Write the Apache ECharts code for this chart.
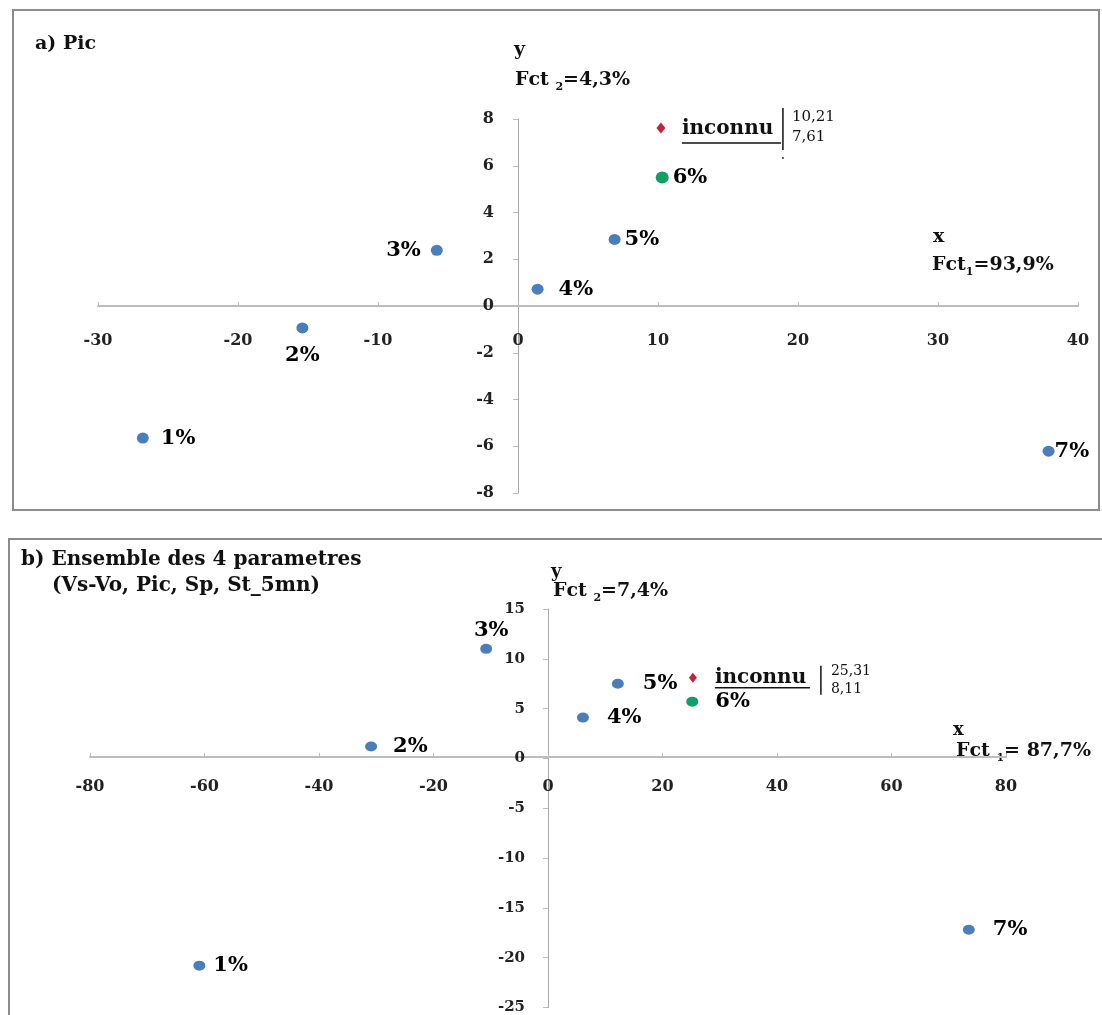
<!DOCTYPE html>
<html><head><meta charset="utf-8">
<script src="https://cdn.jsdelivr.net/npm/echarts@6/dist/echarts.min.js"></script>
<style>html,body{margin:0;padding:0;background:#fff}#c{width:1102px;height:1015px}</style>
</head><body><div id="c"></div>
<script>
// ---------- data ----------
const pointLabels = ['1%','2%','3%','4%','5%','6%','7%'];
const topX = [-26.8, -15.4, -5.8, 1.4, 6.9, 10.3, 37.9];
const topY = [-5.65, -0.94, 2.38, 0.72, 2.85, 5.5, -6.21];
const topUnknown = [10.21, 7.61];
const botX = [-60.9, -30.9, -10.8, 6.1, 12.2, 25.2, 73.5];
const botY = [-20.8, 1.2, 11.0, 4.1, 7.5, 5.7, -17.2];
const botUnknown = [25.31, 8.11];
const unknownName = 'inconnu';
const highlightIndex = 5; // 6% drawn in green
const topTitle = 'a) Pic';
const botTitle1 = 'b) Ensemble des 4 parametres';
const botTitle2 = '(Vs-Vo, Pic, Sp, St_5mn)';
const topXName = ['x', 'Fct', '1', '=93,9%'];
const topYName = ['y', 'Fct ', '2', '=4,3%'];
const botXName = ['x', 'Fct ', '1', '= 87,7%'];
const botYName = ['y', 'Fct ', '2', '=7,4%'];
const topXRange = [-30, 40, 10], topYRange = [-8, 8, 2];
const botXRange = [-80, 80, 20], botYRange = [-25, 15, 5];

// ---------- styles / layout ----------
const FONT = '"DejaVu Serif", "Liberation Serif", serif';
const BLUE = '#4a7ebb', GREEN = '#10a064', RED = '#c0243a';
const topGrid = {left:98, top:119, width:980, height:374};
const botGrid = {left:90, top:609, width:916, height:401};
const topLabelStyle = [
  {position:'right', distance:12}, {position:'bottom', distance:12}, {position:'left', distance:10},
  {position:'right', distance:15}, {position:'right', distance:4}, {position:'right', distance:4},
  {position:'right', distance:0}
];
const botLabelStyle = [
  {position:'right', distance:8}, {position:'right', distance:16}, {position:'top', distance:3, offset:[5,0]},
  {position:'right', distance:18}, {position:'right', distance:19}, {position:'right', distance:17},
  {position:'right', distance:18}
];

function items(xs, ys, styles, fontSize, pick) {
  const out = [];
  xs.forEach((x, i) => {
    if (!pick(i)) return;
    out.push({
      value: [x, ys[i]], name: pointLabels[i],
      label: Object.assign({show:true, formatter:'{b}', color:'#000', fontFamily:FONT, fontWeight:'bold', fontSize:fontSize}, styles[i])
    });
  });
  return out;
}

// axes crossing at zero: shift each axis to the other axis' zero
function zeroShift(range, size) { return size * (0 - range[0]) / (range[1] - range[0]); }

function axisX(gi, r, margin, yr, grid) {
  return {
    gridIndex: gi, type:'value', min:r[0], max:r[1], interval:r[2],
    position:'bottom', offset: -zeroShift(yr, grid.height),
    axisLine:{onZero:false, lineStyle:{color:'#bdbdbd', width:2}},
    axisTick:{show:true, inside:true, length:4, lineStyle:{color:'#bdbdbd'}},
    axisLabel:{margin, color:'#222', fontFamily:FONT, fontWeight:'bold', fontSize:16},
    splitLine:{show:false}
  };
}
function axisY(gi, r, margin, fs, xr, grid) {
  return {
    gridIndex: gi, type:'value', min:r[0], max:r[1], interval:r[2],
    position:'left', offset: -zeroShift(xr, grid.width),
    axisLine:{onZero:false, lineStyle:{color:'#a8a8a8', width:1}},
    axisTick:{show:true, length:5, lineStyle:{color:'#bdbdbd'}},
    axisLabel:{margin, color:'#222', fontFamily:FONT, fontWeight:'bold', fontSize:fs},
    splitLine:{show:false}
  };
}

const chart = echarts.init(document.getElementById('c'), null, {renderer:'canvas'});
chart.setOption({
  animation:false,
  backgroundColor:'#fff',
  grid:[ topGrid, botGrid ],
  xAxis:[ axisX(0, topXRange, 27, topYRange, topGrid), axisX(1, botXRange, 22, botYRange, botGrid) ],
  yAxis:[ axisY(0, topYRange, 24, 16, topXRange, topGrid), axisY(1, botYRange, 23, 15, botXRange, botGrid) ],
  series:[
    {type:'scatter', xAxisIndex:0, yAxisIndex:0, symbol:'circle', symbolSize:[12,11],
     itemStyle:{color:BLUE, opacity:1}, data: items(topX, topY, topLabelStyle, 21, i => i !== highlightIndex)},
    {type:'scatter', xAxisIndex:0, yAxisIndex:0, symbol:'circle', symbolSize:[13,12],
     itemStyle:{color:GREEN, opacity:1}, data: items(topX, topY, topLabelStyle, 21, i => i === highlightIndex)},
    {type:'scatter', xAxisIndex:0, yAxisIndex:0, symbol:'diamond', symbolSize:[9,11],
     itemStyle:{color:RED, opacity:1}, data:[{value:topUnknown, name:unknownName}]},
    {type:'scatter', xAxisIndex:1, yAxisIndex:1, symbol:'circle', symbolSize:[12,10],
     itemStyle:{color:BLUE, opacity:1}, data: items(botX, botY, botLabelStyle, 21, i => i !== highlightIndex)},
    {type:'scatter', xAxisIndex:1, yAxisIndex:1, symbol:'circle', symbolSize:[12,10],
     itemStyle:{color:GREEN, opacity:1}, data: items(botX, botY, botLabelStyle, 21, i => i === highlightIndex)},
    {type:'scatter', xAxisIndex:1, yAxisIndex:1, symbol:'diamond', symbolSize:[8,10],
     itemStyle:{color:RED, opacity:1}, data:[{value:botUnknown, name:unknownName}]}
  ]
});

// ---------- annotations / frames ----------
function fmt(v){ return v.toFixed(2).replace('.', ','); }
function txt(text, x, y, size, opts) {
  return {type:'text', silent:true, style:Object.assign({
    text, x, y, fill:'#111', font:'bold ' + size + 'px ' + FONT, verticalAlign:'middle', align:'left'
  }, opts || {})};
}
function richName(parts, x, y, size) {
  return {type:'text', silent:true, style:{
    text: parts[1] + '{s|' + parts[2] + '}' + parts[3], x, y, fill:'#111',
    font:'bold ' + size + 'px ' + FONT, verticalAlign:'middle',
    rich:{s:{fontSize:Math.round(size*0.6), fontWeight:'bold', fontFamily:FONT, padding:[Math.round(size*0.8),0,0,0], verticalAlign:'bottom'}}
  }};
}
function unknownAnno(p, o, vals) {
  return [
    txt(unknownName, p[0]+o.tx, p[1]+o.ty, o.fs),
    {type:'line', silent:true, shape:{x1:p[0]+o.tx, y1:p[1]+o.uy, x2:p[0]+o.tx+o.uw, y2:p[1]+o.uy}, style:{stroke:'#111', lineWidth:1.5}},
    {type:'line', silent:true, shape:{x1:p[0]+o.bx, y1:p[1]+o.b1, x2:p[0]+o.bx, y2:p[1]+o.b2}, style:{stroke:'#111', lineWidth:1.5}},
    txt(fmt(vals[0]), p[0]+o.nx, p[1]+o.n1, o.nfs, {font: o.nfs + 'px ' + FONT}),
    txt(fmt(vals[1]), p[0]+o.nx, p[1]+o.n2, o.nfs, {font: o.nfs + 'px ' + FONT})
  ];
}

const pt = chart.convertToPixel({xAxisIndex:0, yAxisIndex:0}, topUnknown);
const pb = chart.convertToPixel({xAxisIndex:1, yAxisIndex:1}, botUnknown);

const g = [
  {type:'rect', silent:true, shape:{x:13, y:10, width:1086, height:500}, style:{fill:'none', stroke:'#8c8c8c', lineWidth:2}},
  {type:'rect', silent:true, shape:{x:9, y:539, width:1110, height:500}, style:{fill:'none', stroke:'#8c8c8c', lineWidth:2}},
  txt(topTitle, 35, 44, 19),
  txt(botTitle1, 21, 560, 20),
  txt(botTitle2, 52, 586, 20),
  txt(topYName[0], 514, 50, 19),
  richName(topYName, 515, 80, 19),
  txt(topXName[0], 933, 237, 19),
  richName(topXName, 932, 265, 19),
  txt(botYName[0], 551, 572, 18),
  richName(botYName, 553, 591, 19),
  txt(botXName[0], 953, 730, 18),
  richName(botXName, 956, 751, 19),
  {type:'circle', silent:true, shape:{cx:pt[0]+122, cy:pt[1]+30, r:1}, style:{fill:'#333'}}
].concat(
  unknownAnno(pt, {tx:21, ty:1, fs:20, uy:15, uw:99, bx:122, b1:-20, b2:22, nx:131, n1:-11, n2:9, nfs:15}, topUnknown),
  unknownAnno(pb, {tx:22, ty:0, fs:20, uy:10, uw:95, bx:128, b1:-12, b2:17, nx:138, n1:-6, n2:12, nfs:14}, botUnknown)
);
chart.setOption({graphic: g});
</script>
</body></html>
